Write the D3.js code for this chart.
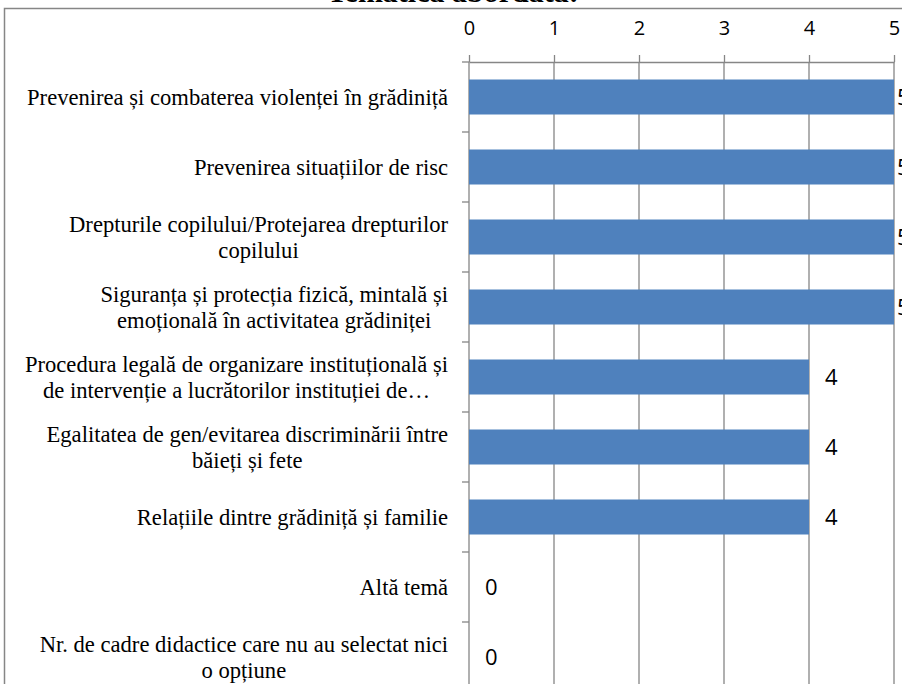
<!DOCTYPE html>
<html>
<head>
<meta charset="utf-8">
<script src="https://cdn.jsdelivr.net/npm/d3@7"></script>
<style>
  body { margin: 0; background: #fff; }
  svg { display: block; }
</style>
</head>
<body>
<div id="chart"></div>
<script>
// Chart values
const title = "Tematica abordată:";
const categories = [
  ["Prevenirea și combaterea violenței în grădiniță"],
  ["Prevenirea situațiilor de risc"],
  ["Drepturile copilului/Protejarea drepturilor", "copilului"],
  ["Siguranța și protecția fizică, mintală și", "emoțională în activitatea grădiniței"],
  ["Procedura legală de organizare instituțională și", "de intervenție a lucrătorilor instituției de…"],
  ["Egalitatea de gen/evitarea discriminării între", "băieți și fete"],
  ["Relațiile dintre grădiniță și familie"],
  ["Altă temă"],
  ["Nr. de cadre didactice care nu au selectat nici", "o opțiune"]
];
const values = [5, 5, 5, 5, 4, 4, 4, 0, 0];
const xTicks = [0, 1, 2, 3, 4, 5];

const width = 902, height = 684;
const plot = { left: 469, right: 894, top: 62, bottom: 692 };
const gray = "#868686";
const serif = "'Liberation Serif', 'Times New Roman', serif";
const sans = "'Open Sans', 'Noto Sans', sans-serif";

const svg = d3.select("#chart").append("svg")
  .attr("width", width)
  .attr("height", height);

// outer chart border (runs off the right and bottom of the picture)
svg.append("rect")
  .attr("x", 4.5).attr("y", 8.5)
  .attr("width", 1000).attr("height", 1000)
  .attr("fill", "none")
  .attr("stroke", gray)
  .attr("stroke-width", 1.5);

// title, mostly cut off at the top
svg.append("text")
  .attr("x", 453).attr("y", 2)
  .attr("text-anchor", "middle")
  .attr("font-family", serif)
  .attr("font-weight", 700)
  .attr("font-size", 30)
  .text(title);

const keys = categories.map((d, i) => i);

const x = d3.scaleLinear().domain([0, 5]).range([plot.left, plot.right]);
const y = d3.scaleBand().domain(keys)
  .range([plot.top, plot.bottom])
  .paddingInner(0.5).paddingOuter(0.25);

// vertical gridlines
svg.append("g").selectAll("line")
  .data(xTicks.slice(1))
  .join("line")
  .attr("x1", d => x(d)).attr("x2", d => x(d))
  .attr("y1", plot.top).attr("y2", plot.bottom)
  .attr("stroke", gray).attr("stroke-width", 1.3);

// top axis
const xAxis = svg.append("g")
  .attr("transform", `translate(0,${plot.top})`)
  .call(d3.axisTop(x).tickValues(xTicks).tickFormat(d3.format("d"))
    .tickSize(7).tickSizeOuter(0).tickPadding(20));
xAxis.selectAll("path, line").attr("stroke", gray).attr("stroke-width", 1.3);
xAxis.selectAll("text")
  .attr("font-family", sans)
  .attr("font-size", 20)
  .attr("fill", "#000");

// left axis with ticks between categories
const gap = y.step() - y.bandwidth();
const boundaries = keys.map(k => y(k) - gap / 2);
const yAxis = svg.append("g");
yAxis.append("line")
  .attr("x1", plot.left).attr("x2", plot.left)
  .attr("y1", plot.top).attr("y2", plot.bottom)
  .attr("stroke", gray).attr("stroke-width", 1.3);
yAxis.selectAll(".tick")
  .data(boundaries)
  .join("line")
  .attr("class", "tick")
  .attr("x1", plot.left - 7).attr("x2", plot.left)
  .attr("y1", d => d).attr("y2", d => d)
  .attr("stroke", gray).attr("stroke-width", 1.3);

// bars
svg.append("g").selectAll("rect")
  .data(values)
  .join("rect")
  .attr("x", x(0))
  .attr("y", (d, i) => y(i))
  .attr("width", d => x(d) - x(0))
  .attr("height", y.bandwidth())
  .attr("fill", "#4f81bd");

// value labels (the 5s get squeezed against the plot edge)
svg.append("g").selectAll("text")
  .data(values)
  .join("text")
  .attr("x", d => d === 5 ? x(d) + 3 : x(d) + 16)
  .attr("y", (d, i) => y(i) + y.bandwidth() / 2)
  .attr("dy", "0.36em")
  .attr("font-family", sans)
  .attr("font-size", 22)
  .attr("fill", "#000")
  .text(d => d);

// category labels
const lineH = 26.5;
const labels = svg.append("g").selectAll("text")
  .data(categories)
  .join("text")
  .attr("text-anchor", "middle")
  .attr("font-family", serif)
  .attr("font-size", 22.6)
  .attr("fill", "#000");

labels.each(function (lines, i) {
  const t = d3.select(this);
  const cy = y(i) + y.bandwidth() / 2;
  const y0 = cy - (lines.length - 1) * lineH / 2;
  lines.forEach((line, j) => {
    t.append("tspan").attr("y", y0 + j * lineH).attr("dy", "0.35em").text(line);
  });
  // right edge of the widest line sits at x = 448, shorter lines centred on it
  const spans = t.selectAll("tspan").nodes();
  const maxW = d3.max(spans, s => s.getComputedTextLength());
  t.selectAll("tspan").attr("x", 448 - maxW / 2);
});
</script>
</body>
</html>
